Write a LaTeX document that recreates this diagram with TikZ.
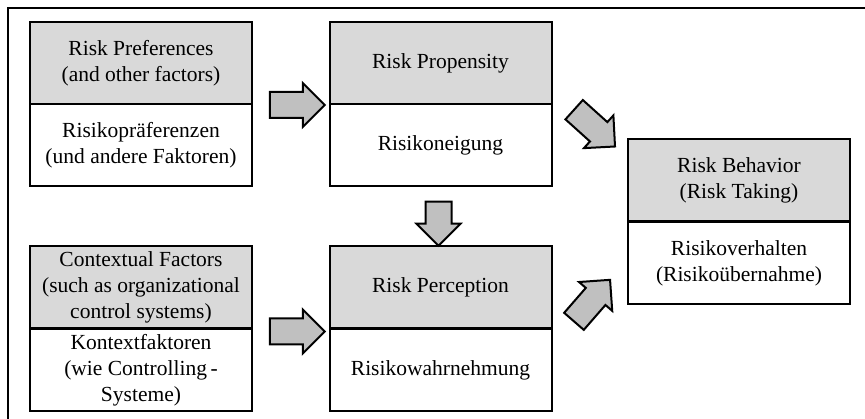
\documentclass[tikz,border=0pt]{standalone}
\usepackage{fontspec}
\setmainfont{Liberation Serif}
\usetikzlibrary{shapes.arrows,calc}
\definecolor{headgray}{HTML}{D9D9D9}
\definecolor{arrowgray}{HTML}{C0C0C0}
\begin{document}
\begin{tikzpicture}[x=1pt,y=-1pt,
  every node/.style={font=\fontsize{21.5}{26}\selectfont, align=center},
  cell/.style={draw=black, line width=2pt, minimum width=222pt, minimum height=82pt,
    inner sep=0pt, outer sep=0pt},
  headcell/.style={cell, fill=headgray},
  bodycell/.style={cell, fill=white},
  blockarrow/.style={single arrow, draw=black, line width=2pt, fill=arrowgray,
    inner xsep=0pt, inner ysep=12pt, outer sep=0pt,
    single arrow head extend=9pt, single arrow tip angle=90,
    single arrow head indent=0pt, minimum width=42pt, minimum height=55pt}]
  \useasboundingbox (0,0) rectangle (865,419);

  % frame (top and left edges)
  \draw[line width=2pt] (8,419) -- (8,8) -- (865,8);

  % upper row
  \node[headcell] (prefH) at (141,63)  {Risk Preferences\\(and other factors)};
  \node[bodycell] (prefL) at (141,145) {Risikopräferenzen\\(und andere Faktoren)};
  \node[headcell] (propH) at (440.5,63)  {Risk Propensity};
  \node[bodycell] (propL) at (440.5,145) {Risikoneigung};

  % lower row
  \node[headcell] (ctxH) at (141,287.5) {Contextual Factors\\(such as organizational\\control systems)};
  \node[bodycell] (ctxL) at (141,370.5) {Kontextfaktoren\\(wie Controlling\,-\\Systeme)};
  \node[headcell] (percH) at (440.5,287.5) {Risk Perception};
  \node[bodycell] (percL) at (440.5,370.5) {Risikowahrnehmung};

  % outcome
  \node[headcell] (behH) at (739,180.5) {Risk Behavior\\(Risk Taking)};
  \node[bodycell] (behL) at (739,263.5) {Risikoverhalten\\(Risikoübernahme)};

  % block arrows between the boxes
  \node[blockarrow] (a1) at ($(prefH.south east)!0.5!(propH.south west)+(0,1)$) {};
  \node[blockarrow] (a2) at ($(ctxH.south east)!0.5!(percH.south west)+(0,3)$) {};
  \node[blockarrow, rotate=-90, minimum height=44pt] (a3)
    at ($(propL.south)!0.5!(percH.north)+(-2,1)$) {};
  \node[blockarrow, rotate=-42] (a4)
    at ($(propL.north east)!0.5!(behH.north west)+(0,2)$) {};
  \node[blockarrow, rotate=49] (a5)
    at ($(percH.south east)!0.5!(behL.south west)+(-2,-11)$) {};
\end{tikzpicture}
\end{document}
